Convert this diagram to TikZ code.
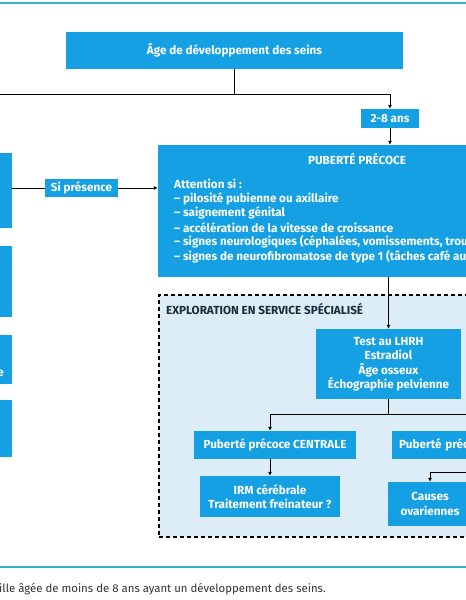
\documentclass[tikz,border=0pt]{standalone}
\usepackage{fontspec}
\setmainfont{Fira Sans}
\usetikzlibrary{arrows.meta}
\definecolor{boxblue}{HTML}{14A0E3}
\definecolor{lightfill}{HTML}{DCEDF8}
\definecolor{rulecol}{HTML}{3AAFC9}
\definecolor{darktext}{HTML}{1E2A38}
\definecolor{captext}{HTML}{333333}
\begin{document}
\begin{tikzpicture}[x=1pt,y=-1pt,
  box/.style={fill=boxblue, text=white, font=\bfseries\fontsize{11.7}{14.5}\selectfont, inner sep=0pt, align=center},
  btext/.style={text=white, font=\bfseries\fontsize{11.7}{14.5}\selectfont, inner sep=0pt, anchor=west},
  conn/.style={line width=0.8pt, black},
  arr/.style={conn, -{Latex[length=4pt,width=4pt]}}]
\clip (0,0) rectangle (466,600);
\fill[white] (0,0) rectangle (466,600);
\draw[rulecol, line width=2pt] (0,3) -- (466,3);
\draw[rulecol, line width=1.5pt] (0,567) -- (466,567);

% top box
\node[box, minimum width=337, minimum height=37] (top) at (234.5,50.5) {Âge de développement des seins};
\node[box, minimum width=58, minimum height=19] (age) at (390,118.5) {2-8 ans};
\coordinate (jt) at (234.5,94);
\coordinate (jl) at (-5,94);
\draw[conn] (top.south) -- (jt);
\draw[conn] (jl) -- (jt);
\draw[arr] (jt) -| (age.north);

% puberte precoce
\node[box, minimum width=322, minimum height=132] (pp) at (319,211) {};
\draw[arr] (age.south) -- (age.south |- pp.north);
\node[btext, anchor=center] (pptitle) at (357,159) {PUBERTÉ PRÉCOCE};
\node[btext] (pl1) at (174,184) {Attention si :};
\node[btext] (pl2) at (174,199) {– pilosité pubienne ou axillaire};
\node[btext] (pl3) at (174,213) {– saignement génital};
\node[btext] (pl4) at (174,228) {– accélération de la vitesse de croissance};
\node[btext] (pl5) at (174,242) {– signes neurologiques (céphalées, vomissements, trou};
\node[btext] (pl6) at (174,257) {– signes de neurofibromatose de type 1 (tâches café au};

% left boxes
\node[box, minimum width=22, minimum height=75] (l1) at (1,190.5) {};
\node[box, minimum width=22, minimum height=71] (l2) at (1,281.5) {};
\node[box, minimum width=22, minimum height=49] (l3) at (1,359.5) {};
\node[box, minimum width=22, minimum height=57] (l4) at (1,428.5) {};
\node[btext, anchor=east] (l3t) at (4,373) {e};
\node[box, minimum width=73, minimum height=18] (si) at (81.5,188) {Si présence};
\draw[conn] (si.west -| l1.east) -- (si.west);
\draw[arr] (si.east) -- (si.east -| pp.west);

% exploration region
\node[fill=lightfill, draw=black, line width=1.3pt, dash pattern=on 4pt off 3pt, minimum width=321, minimum height=242, inner sep=0pt] (expl) at (319.5,416) {};
\node[text=darktext, font=\bfseries\fontsize{11.7}{14.5}\selectfont, inner sep=0pt, anchor=west] (expllab) at (166,309) {EXPLORATION EN SERVICE SPÉCIALISÉ};

\node[box, minimum width=145, minimum height=70] (test) at (388.5,364) {Test au LHRH\\Estradiol\\Âge osseux\\Échographie pelvienne};
\draw[arr] (test.north |- pp.south) -- (test.north);

\node[box, minimum width=162, minimum height=28] (cent) at (275,445) {Puberté précoce CENTRALE};
\node[box, minimum width=140, minimum height=41] (irm) at (270,496.5) {IRM cérébrale\\Traitement freinateur ?};
\node[box, minimum width=130, minimum height=28, anchor=west, inner xsep=7pt, text width=116, align=left] (pr) at (392,445) {Puberté précoce};
\node[box, minimum width=84, minimum height=44] (causes) at (430,504) {Causes\\ovariennes};

\coordinate (j) at (388.5,414);
\coordinate (jr) at (475,414);
\coordinate (cr) at (475,472);
\draw[conn] (test.south) -- (j);
\draw[conn] (j) -- (jr);
\draw[arr] (j) -| (irm.north |- cent.north);
\draw[arr] (irm.north |- cent.south) -- (irm.north);
\draw[arr] (cr) -| (causes.north);

% caption
\node[text=captext, font=\fontsize{11.4}{14}\selectfont, inner sep=0pt, anchor=west] (cap) at (-1,589) {ille âgée de moins de 8 ans ayant un développement des seins.};
\end{tikzpicture}
\end{document}
